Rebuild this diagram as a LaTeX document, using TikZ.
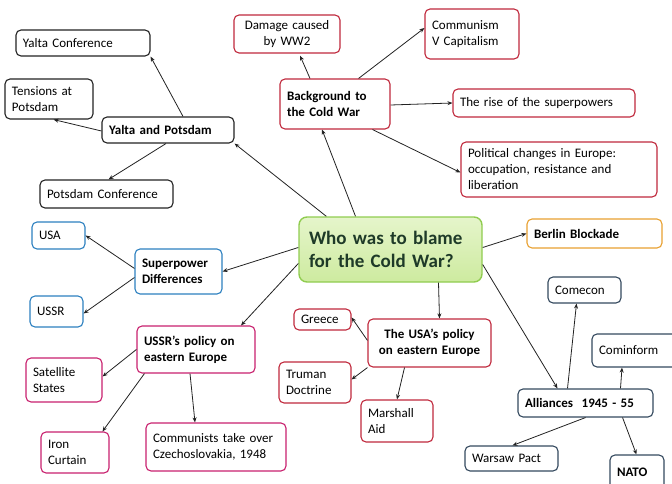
\documentclass[tikz,border=0pt]{standalone}
\usepackage{fontspec}
\setmainfont{Carlito}
\usetikzlibrary{arrows.meta}
\definecolor{cblack}{HTML}{222222}
\definecolor{cred}{HTML}{C0283C}
\definecolor{cblue}{HTML}{2C80C0}
\definecolor{cmag}{HTML}{C8206E}
\definecolor{corange}{HTML}{E8A030}
\definecolor{cslate}{HTML}{34495E}
\definecolor{cgreen}{HTML}{90CC50}
\definecolor{gfill}{HTML}{D4EEA8}
\definecolor{gtext}{HTML}{1E3A28}
\newcommand{\mybox}[7]{%
 \pgfmathsetmacro{\myCx}{(#3+#5)/2}\pgfmathsetmacro{\myCy}{(#4+#6)/2}%
 \pgfmathsetmacro{\myBw}{#5-#3}\pgfmathsetmacro{\myBh}{#6-#4}\pgfmathsetmacro{\myTw}{#5-#3-14}%
 \node[#2, minimum width=\myBw pt, minimum height=\myBh pt, text width=\myTw pt] (#1) at (\myCx,\myCy) {#7};}
\begin{document}
\begin{tikzpicture}[x=1pt,y=-1pt,
  basebox/.style={draw, line width=1.1pt, rounded corners=5pt, fill=white, inner xsep=7pt, inner ysep=2pt, align=left, font=\fontsize{13}{16}\selectfont},
  bk/.style={basebox, draw=cblack},
  rd/.style={basebox, draw=cred},
  bl/.style={basebox, draw=cblue},
  mg/.style={basebox, draw=cmag},
  og/.style={basebox, draw=corange},
  sl/.style={basebox, draw=cslate},
  bf/.style={font=\fontsize{13}{16}\selectfont\bfseries},
  ctr/.style={align=center},
  arr/.style={-{Stealth[length=5pt,width=4pt]}, line width=0.8pt, draw=cblack}]
\useasboundingbox (0,0) rectangle (672,484);
% central
\mybox{main}{basebox, draw=cgreen, line width=1.4pt, rounded corners=8pt, top color=gfill!60!white, bottom color=gfill!90!cgreen, text=gtext, font=\fontsize{19}{23}\selectfont\bfseries, inner xsep=10pt}{302}{217}{479}{282}{Who was to blame\\for the Cold War?}
% Yalta group
\mybox{yp}{bk,bf}{102}{117}{234}{143}{Yalta and Potsdam}
\mybox{yc}{bk}{16}{30}{150}{56}{Yalta Conference}
\mybox{tp}{bk}{5}{79}{93}{119}{Tensions at\\Potsdam}
\mybox{pc}{bk}{40}{180}{173}{208}{Potsdam Conference}
% Background group
\mybox{bg}{rd,bf}{280}{79}{390}{129}{Background to\\the Cold War}
\mybox{dm}{rd,ctr}{234}{15}{340}{53}{Damage caused\\by WW2}
\mybox{cc}{rd}{425}{9}{519}{59}{Communism\\V Capitalism}
\mybox{rs}{rd}{453}{89}{635}{117}{The rise of the superpowers}
\mybox{pol}{rd}{461}{142}{657}{197}{Political changes in Europe:\\occupation, resistance and\\liberation}
% Superpower group
\mybox{sd}{bl,bf}{135}{249}{222}{294}{Superpower\\Differences}
\mybox{usa}{bl}{32}{222}{85}{249}{USA}
\mybox{ussr}{bl}{30}{296}{83}{327}{USSR}
% USSR policy group
\mybox{up}{mg,bf}{137}{326}{255}{373}{USSR's policy on\\eastern Europe}
\mybox{sat}{mg}{26}{358}{102}{402}{Satellite\\States}
\mybox{ic}{mg}{41}{432}{109}{473}{Iron\\Curtain}
\mybox{cz}{mg}{146}{423}{286}{471}{Communists take over\\Czechoslovakia, 1948}
% USA policy group
\mybox{ap}{rd,bf,ctr}{368}{319}{491}{367}{The USA's policy\\on eastern Europe}
\mybox{gr}{rd}{294}{309}{351}{330}{Greece}
\mybox{td}{rd}{279}{362}{351}{403}{Truman\\Doctrine}
\mybox{ma}{rd}{361}{400}{433}{442}{Marshall\\Aid}
% Berlin
\mybox{bb}{og,bf}{527}{219}{662}{248}{Berlin Blockade}
% Alliances
\mybox{al}{sl,bf}{518}{389}{653}{417}{Alliances\ \ 1945 - 55}
\mybox{cm}{sl}{548}{277}{621}{303}{Comecon}
\mybox{ci}{sl}{592}{334}{680}{367}{Cominform}
\mybox{wp}{sl}{465}{446}{558}{471}{Warsaw Pact}
\mybox{na}{sl,bf}{610}{455}{664}{490}{NATO}
% connectors from centre
\draw[arr] (main.north west) ++(28,0) -- (yp.south east);
\draw[arr] (main.north) ++(-35,0) -- ([xshift=-13pt]bg.south);
\draw[arr] (main.west) ++(0,-2) -- (sd.east);
\draw[arr] ([yshift=-14pt]main.west) -- ([xshift=45pt]up.north);
\draw[arr] ([xshift=48pt]main.south) -- ([xshift=10pt]ap.north);
\draw[arr] ([yshift=2pt]main.east) -- (bb.west);
\draw[arr] ([yshift=-15pt]main.east) -- ([xshift=-28pt]al.north);
% Yalta group
\draw[arr] ([xshift=15pt]yp.north) -- (yc.south east);
\draw[arr] ([yshift=-1pt]yp.west) -- ([xshift=-40pt]tp.south east);
\draw[arr] ([xshift=-2pt]yp.south) -- ([xshift=2pt]pc.north);
% Background group
\draw[arr] ([xshift=-25pt]bg.north) -- ([xshift=13pt,yshift=-2pt]dm.south);
\draw[arr] ([xshift=-32pt]bg.north east) -- ([yshift=6pt]cc.west);
\draw[arr] ([yshift=-1pt]bg.east) -- (rs.west);
\draw[arr] ([xshift=-18pt]bg.south east) -- ([yshift=-3pt]pol.west);
% Superpower group
\draw[arr] ([yshift=-20pt]sd.north west) -- ([yshift=-14pt]usa.north east);
\draw[arr] ([yshift=-6pt]sd.west) -- ([yshift=-2pt]ussr.east);
% USSR policy group
\draw[arr] ([yshift=-24pt]up.north west) -- ([yshift=-19pt]sat.north east);
\draw[arr] ([xshift=8pt]up.south west) -- ([xshift=62pt]ic.north west);
\draw[arr] ([xshift=-6pt]up.south) -- ([xshift=-21pt]cz.north);
% USA policy group
\draw[arr] ([yshift=-22pt]ap.north west) -- ([yshift=-9pt]gr.north east);
\draw[arr] (ap.south west) -- ([yshift=-18pt]td.north east);
\draw[arr] ([xshift=-25pt]ap.south) -- ([xshift=0pt]ma.north);
% Alliances
\draw[arr] ([xshift=-18pt]al.north) -- ([xshift=-8pt]cm.south);
\draw[arr] ([xshift=35pt]al.north) -- ([xshift=-14pt]ci.south);
\draw[arr] ([xshift=-68pt]al.south east) -- ([xshift=48pt]wp.north west);
\draw[arr] ([xshift=-31pt]al.south east) -- ([xshift=27pt]na.north west);
\end{tikzpicture}
\end{document}
